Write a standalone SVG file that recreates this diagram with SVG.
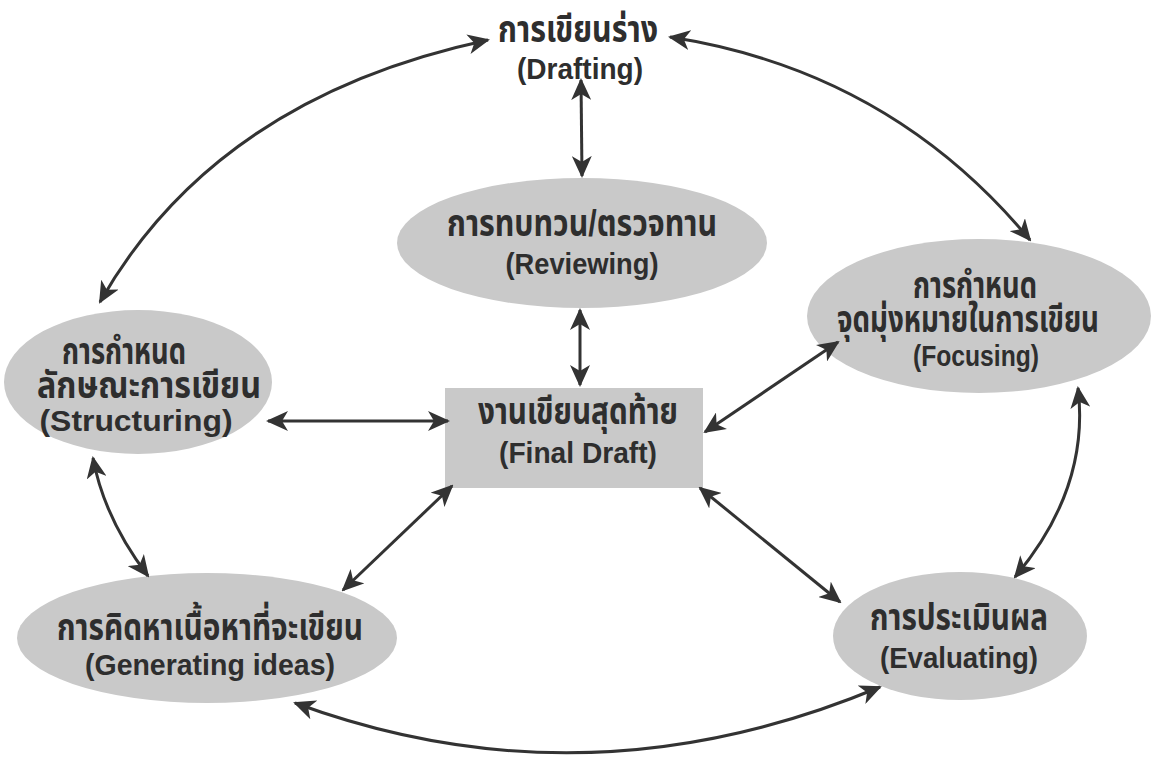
<svg xmlns="http://www.w3.org/2000/svg" width="1157" height="759" viewBox="0 0 1157 759">
<defs>
<marker id="ah" viewBox="0 0 22 20" refX="20" refY="10" markerWidth="22" markerHeight="20" markerUnits="userSpaceOnUse" orient="auto-start-reverse">
<path d="M0,0 L22,10 L0,20 L6,10 z" fill="#333"/>
</marker>
</defs>
<style>
.n{fill:#c9c9c9;}
.t{font-family:"Liberation Sans","Noto Sans Thai","Noto Sans",sans-serif;font-weight:bold;fill:#2e2e2e;text-anchor:middle;}
.th{font-size:37px;}
.en{font-size:30px;}
.c{fill:none;stroke:#333;stroke-width:3;marker-start:url(#ah);marker-end:url(#ah);}
</style>
<rect width="1157" height="759" fill="#fff"/>
<g id="drafting">
<text class="t th" x="578" y="42" textLength="160" lengthAdjust="spacingAndGlyphs">การเขียนร่าง</text>
<text class="t en" x="580" y="79" textLength="126" lengthAdjust="spacingAndGlyphs">(Drafting)</text>
</g>
<g id="reviewing">
<ellipse class="n" cx="582" cy="243" rx="185" ry="65"/>
<text class="t th" x="582" y="236" textLength="270" lengthAdjust="spacingAndGlyphs">การทบทวน/ตรวจทาน</text>
<text class="t en" x="582" y="274" textLength="153" lengthAdjust="spacingAndGlyphs">(Reviewing)</text>
</g>
<g id="structuring">
<ellipse class="n" cx="138" cy="382" rx="134" ry="72"/>
<text class="t th" transform="translate(124,364) scale(0.74,1)">การกำหนด</text>
<text class="t th" x="149" y="398" textLength="224" lengthAdjust="spacingAndGlyphs">ลักษณะการเขียน</text>
<text class="t en" x="136" y="431" textLength="193" lengthAdjust="spacingAndGlyphs">(Structuring)</text>
</g>
<g id="focusing">
<ellipse class="n" cx="979" cy="316" rx="172" ry="77"/>
<text class="t th" transform="translate(975,298) scale(0.74,1)">การกำหนด</text>
<text class="t th" x="968" y="332" textLength="262" lengthAdjust="spacingAndGlyphs">จุดมุ่งหมายในการเขียน</text>
<text class="t en" x="976" y="366" textLength="126" lengthAdjust="spacingAndGlyphs">(Focusing)</text>
</g>
<g id="final">
<rect class="n" x="445" y="388" width="258" height="100"/>
<text class="t th" x="578" y="424" textLength="200" lengthAdjust="spacingAndGlyphs">งานเขียนสุดท้าย</text>
<text class="t en" x="578" y="463" textLength="158" lengthAdjust="spacingAndGlyphs">(Final Draft)</text>
</g>
<g id="generating">
<ellipse class="n" cx="207" cy="638" rx="190" ry="65"/>
<text class="t th" x="210" y="640" textLength="306" lengthAdjust="spacingAndGlyphs">การคิดหาเนื้อหาที่จะเขียน</text>
<text class="t en" x="210" y="675" textLength="250" lengthAdjust="spacingAndGlyphs">(Generating ideas)</text>
</g>
<g id="evaluating">
<ellipse class="n" cx="960" cy="636" rx="127" ry="64"/>
<text class="t th" x="959" y="630" textLength="178" lengthAdjust="spacingAndGlyphs">การประเมินผล</text>
<text class="t en" x="959" y="668" textLength="158" lengthAdjust="spacingAndGlyphs">(Evaluating)</text>
</g>
<g id="connectors">
<path class="c" d="M488,40 Q216,98 100,302"/>
<path class="c" d="M670,37 Q890,71 1030,240"/>
<path class="c" d="M581,80 L582,176"/>
<path class="c" d="M580,310 L580,385"/>
<path class="c" d="M268,421 L448,421"/>
<path class="c" d="M705,432 L838,342"/>
<path class="c" d="M452,486 L343,590"/>
<path class="c" d="M700,488 L840,602"/>
<path class="c" d="M93,458 Q104,518 148,576"/>
<path class="c" d="M1078,388 Q1090,488 1015,577"/>
<path class="c" d="M295,703 Q586,810 880,687"/>
</g>
</svg>
